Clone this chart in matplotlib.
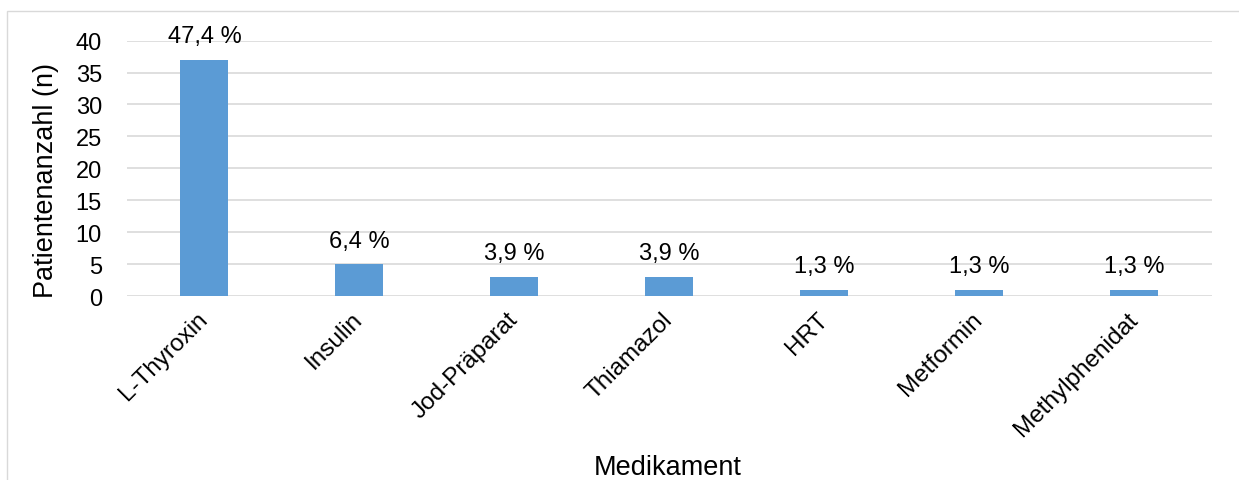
import matplotlib.pyplot as plt
from matplotlib.patches import Rectangle

# Daten
medikamente = ['L-Thyroxin', 'Insulin', 'Jod-Präparat', 'Thiamazol', 'HRT', 'Metformin', 'Methylphenidat']
anzahl = [37, 5, 3, 3, 1, 1, 1]
prozent = ['47,4 %', '6,4 %', '3,9 %', '3,9 %', '1,3 %', '1,3 %', '1,3 %']

plt.rcParams['font.family'] = ['Liberation Sans', 'DejaVu Sans']

fig = plt.figure(figsize=(12.39, 4.81), dpi=100)
ax = fig.add_axes([0.1025, 0.3825, 0.8755, 0.531])

bars = ax.bar(range(len(medikamente)), anzahl, width=0.31, color='#5B9BD5', zorder=3)

for bar, txt in zip(bars, prozent):
    ax.annotate(txt, (bar.get_x() + bar.get_width() / 2, bar.get_height()),
                xytext=(0, 9), textcoords='offset points',
                ha='center', va='bottom', fontsize=17, color='black')

ax.set_xlim(-0.5, len(medikamente) - 0.5)
ax.set_ylim(0, 40)
ax.set_yticks(range(0, 41, 5))
ax.tick_params(axis='y', labelsize=17, length=0, pad=18)
ax.set_xticks(range(len(medikamente)))
ax.set_xticklabels(medikamente, rotation=45, ha='right', va='center',
                   rotation_mode='anchor', fontsize=17.5)
ax.tick_params(axis='x', length=0, pad=14)

ax.grid(axis='y', color='#D9D9D9', linewidth=1.2, zorder=0)
for s in ax.spines.values():
    s.set_visible(False)

ax.set_ylabel('Patientenanzahl (n)', fontsize=19.5, va='center')
ax.yaxis.set_label_coords(-0.0745, 0.458)
fig.text(0.539, 0.027, 'Medikament', ha='center', va='center', fontsize=19.5)

# Rahmen
fig.patches.append(Rectangle((7 / 1239, -0.1), 1.1, 1.1 - 12 / 481,
                             transform=fig.transFigure, fill=False,
                             edgecolor='#D9D9D9', linewidth=1))

fig.savefig('out.png', dpi=100)
